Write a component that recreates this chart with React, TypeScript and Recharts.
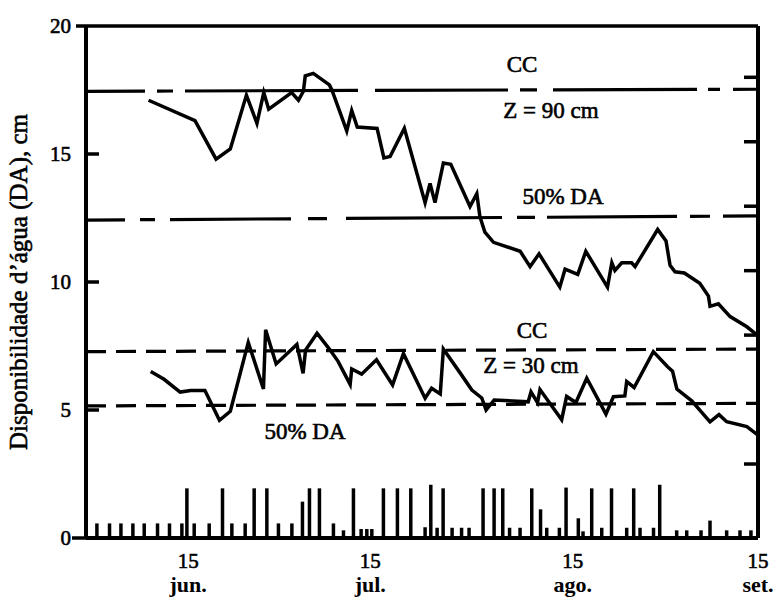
import React from 'react';
import { ComposedChart, Line, XAxis, YAxis, Scatter, ErrorBar, ReferenceLine } from 'recharts';

// x = days relative to 15 June
const z90Days = [-6.4, 1.1, 4.5, 6.8, 9.4, 11.1, 12.2, 13.0, 16.7, 17.8, 18.6, 18.9, 20.2, 22.8, 23.2, 25.6, 26.4, 27.3, 30.5, 31.6, 32.6, 34.9, 38.25, 39.05, 39.85, 41.2, 42.4, 45.5, 46.6, 47.1, 47.9, 49.3, 53.6, 55.2, 56.65, 60.0, 60.85, 62.9, 64.2, 67.7, 68.4, 68.9, 70.0, 71.6, 72.15, 75.8, 77.15, 77.8, 78.6, 80.1, 82.6, 84.0, 84.25, 85.6, 87.5, 90.2, 92.0];
const z90Values = [17.1, 16.3, 14.8, 15.2, 17.3, 16.2, 17.4, 16.75, 17.4, 17.1, 17.45, 18.05, 18.15, 17.7, 17.5, 15.9, 16.7, 16.05, 16.0, 14.85, 14.9, 16.0, 13.1, 13.85, 13.1, 14.65, 14.6, 12.95, 13.45, 12.55, 11.95, 11.55, 11.2, 10.6, 11.1, 9.8, 10.5, 10.3, 11.2, 9.8, 10.75, 10.45, 10.75, 10.75, 10.6, 12.05, 11.6, 10.65, 10.4, 10.35, 9.95, 9.45, 9.05, 9.15, 8.65, 8.25, 7.9];

const z30Days = [-6.05, -3.9, -1.3, 0.4, 2.7, 5.05, 6.8, 9.7, 12.15, 12.5, 14.2, 17.55, 18.55, 18.95, 20.8, 22.8, 24.2, 26.15, 26.4, 28.0, 30.4, 33.0, 34.75, 38.25, 39.3, 40.7, 41.2, 43.9, 45.8, 47.4, 48.1, 49.4, 54.9, 55.35, 56.4, 56.8, 60.3, 61.1, 62.6, 64.35, 67.45, 68.65, 70.5, 70.8, 72.0, 75.1, 77.4, 78.2, 78.9, 81.3, 84.25, 85.7, 86.95, 90.2, 92.0];
const z30Values = [6.5, 6.2, 5.7, 5.76, 5.76, 4.6, 4.95, 7.64, 5.82, 8.13, 6.8, 7.56, 6.43, 7.34, 8.0, 7.38, 6.9, 6.0, 6.6, 6.4, 6.96, 5.98, 7.2, 5.46, 5.85, 5.63, 7.38, 6.45, 5.78, 5.47, 5.0, 5.39, 5.32, 5.71, 5.29, 5.8, 4.62, 5.53, 5.29, 6.24, 4.84, 5.52, 5.55, 6.11, 5.88, 7.28, 6.69, 6.52, 5.82, 5.36, 4.54, 4.82, 4.54, 4.35, 4.02];

const rainDays = [-14.74, -12.7, -10.86, -8.93, -7.1, -4.95, -3.02, -1.02, -0.21, 0.97, 3.39, 5.54, 7.05, 9.2, 10.65, 12.7, 14.57, 16.74, 18.45, 19.58, 21.19, 23.45, 25.07, 26.68, 27.92, 28.84, 29.65, 31.52, 33.78, 35.94, 38.25, 39.17, 40.19, 41.16, 42.61, 44.14, 45.35, 47.61, 49.39, 50.79, 51.89, 53.58, 55.47, 56.89, 57.89, 59.93, 61.01, 62.99, 63.75, 65.15, 66.77, 68.35, 70.8, 71.93, 72.95, 75.13, 76.13, 78.87, 80.49, 82.8, 84.25, 86.94, 89.09, 90.86];
const rainValues = [0.57, 0.57, 0.57, 0.57, 0.57, 0.57, 0.57, 0.57, 1.94, 0.57, 0.57, 1.94, 0.57, 0.57, 1.94, 1.94, 0.57, 0.57, 1.42, 1.94, 1.94, 0.57, 0.3, 1.94, 0.35, 0.35, 0.35, 1.94, 1.94, 1.94, 0.42, 2.08, 0.4, 1.94, 0.4, 0.4, 0.4, 1.94, 1.94, 1.94, 0.4, 0.4, 1.94, 1.12, 0.4, 0.4, 1.97, 0.77, 0.26, 1.94, 0.4, 1.94, 0.4, 1.94, 0.4, 0.4, 2.08, 0.3, 0.3, 0.3, 0.68, 0.3, 0.3, 0.3];

// reference levels (start, end of period)
const refDays = [-16.5, 92];
const cc90 = [17.45, 17.53];
const da90 = [12.42, 12.58];
const cc30 = [7.28, 7.38];
const da30 = [5.16, 5.26];

const xTicks = [0, 29.4, 62.1, 92];
const xDayLabels = ['15', '15', '15', '15'];
const xMonthLabels = ['jun.', 'jul.', 'ago.', 'set.'];
const yTicks = [0, 5, 10, 15, 20];
const rightTicks = [1, 3, 4, 5, 6, 7];

const z90Data = z90Days.map((d, i) => ({ d, v: z90Values[i] }));
const z30Data = z30Days.map((d, i) => ({ d, v: z30Values[i] }));
const rainData = rainDays.map((d, i) => ({ d, h: rainValues[i], e: [rainValues[i], 0] }));
const mk = (vals: number[]) => refDays.map((d, i) => ({ d, v: vals[i] }));

const FONT = '"Liberation Serif", "Times New Roman", serif';
const heavy = { stroke: '#000', strokeWidth: 0.6 };

const LeftTick = (props: any) => {
  const { x, y, payload } = props;
  const v = payload.value;
  return (
    <g>
      <text x={x - 15} y={y} dy={7} textAnchor="end" fontFamily={FONT} fontSize={21} fill="#000" {...heavy}>{v}</text>
      {v === 0 && <line x1={x - 14} x2={x} y1={y} y2={y} stroke="#000" strokeWidth={3.5} />}
      {v === 20 && <line x1={x - 10} x2={x} y1={y} y2={y} stroke="#000" strokeWidth={3.5} />}
      {v > 0 && v < 20 && <line x1={x} x2={x + 13} y1={y} y2={y} stroke="#000" strokeWidth={3.5} />}
    </g>
  );
};

const RightTick = (props: any) => {
  const { x, y } = props;
  return <line x1={x} x2={x - 14} y1={y} y2={y} stroke="#000" strokeWidth={3.5} />;
};

const XTick = (props: any) => {
  const { x, y, index } = props;
  return (
    <g>
      <text x={x} y={y + 30} textAnchor="middle" fontFamily={FONT} fontSize={21} fill="#000" {...heavy}>{xDayLabels[index]}</text>
      <text x={x} y={y + 54} textAnchor="middle" fontFamily={FONT} fontSize={22} fontWeight="bold" fill="#000">{xMonthLabels[index]}</text>
    </g>
  );
};

const annot = { fontFamily: FONT, fontSize: 23, fill: '#000', textAnchor: 'middle' as const, ...heavy };

export default function App() {
  return (
    <div style={{ position: 'absolute', left: 0, top: 0, background: '#fff' }}>
      <ComposedChart width={776} height={599} margin={{ top: 26, right: 16, bottom: 11, left: 0 }}>
        <XAxis
          xAxisId="x"
          dataKey="d"
          type="number"
          domain={[-16.5, 92]}
          allowDataOverflow
          ticks={xTicks}
          interval={0}
          height={50}
          tickLine={false}
          tickSize={0}
          tickMargin={0}
          tick={<XTick />}
          axisLine={{ stroke: '#000', strokeWidth: 4 }}
        />
        <YAxis
          yAxisId="l"
          type="number"
          domain={[0, 20]}
          allowDataOverflow
          ticks={yTicks}
          interval={0}
          width={86}
          tickLine={false}
          tickSize={0}
          tickMargin={0}
          tick={<LeftTick />}
          axisLine={{ stroke: '#000', strokeWidth: 4 }}
        />
        <YAxis
          yAxisId="r"
          orientation="right"
          type="number"
          domain={[-0.148, 7.796]}
          allowDataOverflow
          ticks={rightTicks}
          interval={0}
          width={2}
          tickLine={false}
          tickSize={0}
          tickMargin={0}
          tick={<RightTick />}
          axisLine={{ stroke: '#000', strokeWidth: 4 }}
        />
        <ReferenceLine xAxisId="x" yAxisId="l" y={20} stroke="#000" strokeWidth={3.5} />

        <Line xAxisId="x" yAxisId="l" data={mk(cc90)} dataKey="v" type="linear" dot={false} stroke="#000" strokeWidth={3.2}
          strokeDasharray="59 12 16 12 173 17 133 12 17 16 144 11 12 13 24 20" isAnimationActive={false} />
        <Line xAxisId="x" yAxisId="l" data={mk(da90)} dataKey="v" type="linear" dot={false} stroke="#000" strokeWidth={3.2}
          strokeDasharray="39 15 15 15 121 17 19 19 156 15 18 12 130 13 20 13 35 20" isAnimationActive={false} />
        <Line xAxisId="x" yAxisId="l" data={mk(cc30)} dataKey="v" type="linear" dot={false} stroke="#000" strokeWidth={3.2}
          strokeDasharray="20 10" isAnimationActive={false} />
        <Line xAxisId="x" yAxisId="l" data={mk(da30)} dataKey="v" type="linear" dot={false} stroke="#000" strokeWidth={3.2}
          strokeDasharray="20 10" isAnimationActive={false} />

        <Line xAxisId="x" yAxisId="l" data={z90Data} dataKey="v" type="linear" dot={false} stroke="#000" strokeWidth={3.5} isAnimationActive={false} />
        <Line xAxisId="x" yAxisId="l" data={z30Data} dataKey="v" type="linear" dot={false} stroke="#000" strokeWidth={3.5} isAnimationActive={false} />

        <Scatter xAxisId="x" yAxisId="l" data={rainData} dataKey="h" shape={() => <g />} isAnimationActive={false}>
          <ErrorBar dataKey="e" direction="y" width={0} stroke="#000" strokeWidth={3.5} isAnimationActive={false} />
        </Scatter>

        <text x={522} y={72} {...annot}>CC</text>
        <text x={551} y={118} {...annot}>Z = 90 cm</text>
        <text x={563} y={204} {...annot}>50% DA</text>
        <text x={532} y={338} {...annot}>CC</text>
        <text x={531} y={373} {...annot}>Z = 30 cm</text>
        <text x={305} y={439} {...annot}>50% DA</text>
        <text x={27} y={282} transform="rotate(-90, 27, 282)" fontFamily={FONT} fontSize={25} fill="#000" textAnchor="middle" {...heavy}>
          Disponibilidade d’água (DA), cm
        </text>
      </ComposedChart>
    </div>
  );
}
